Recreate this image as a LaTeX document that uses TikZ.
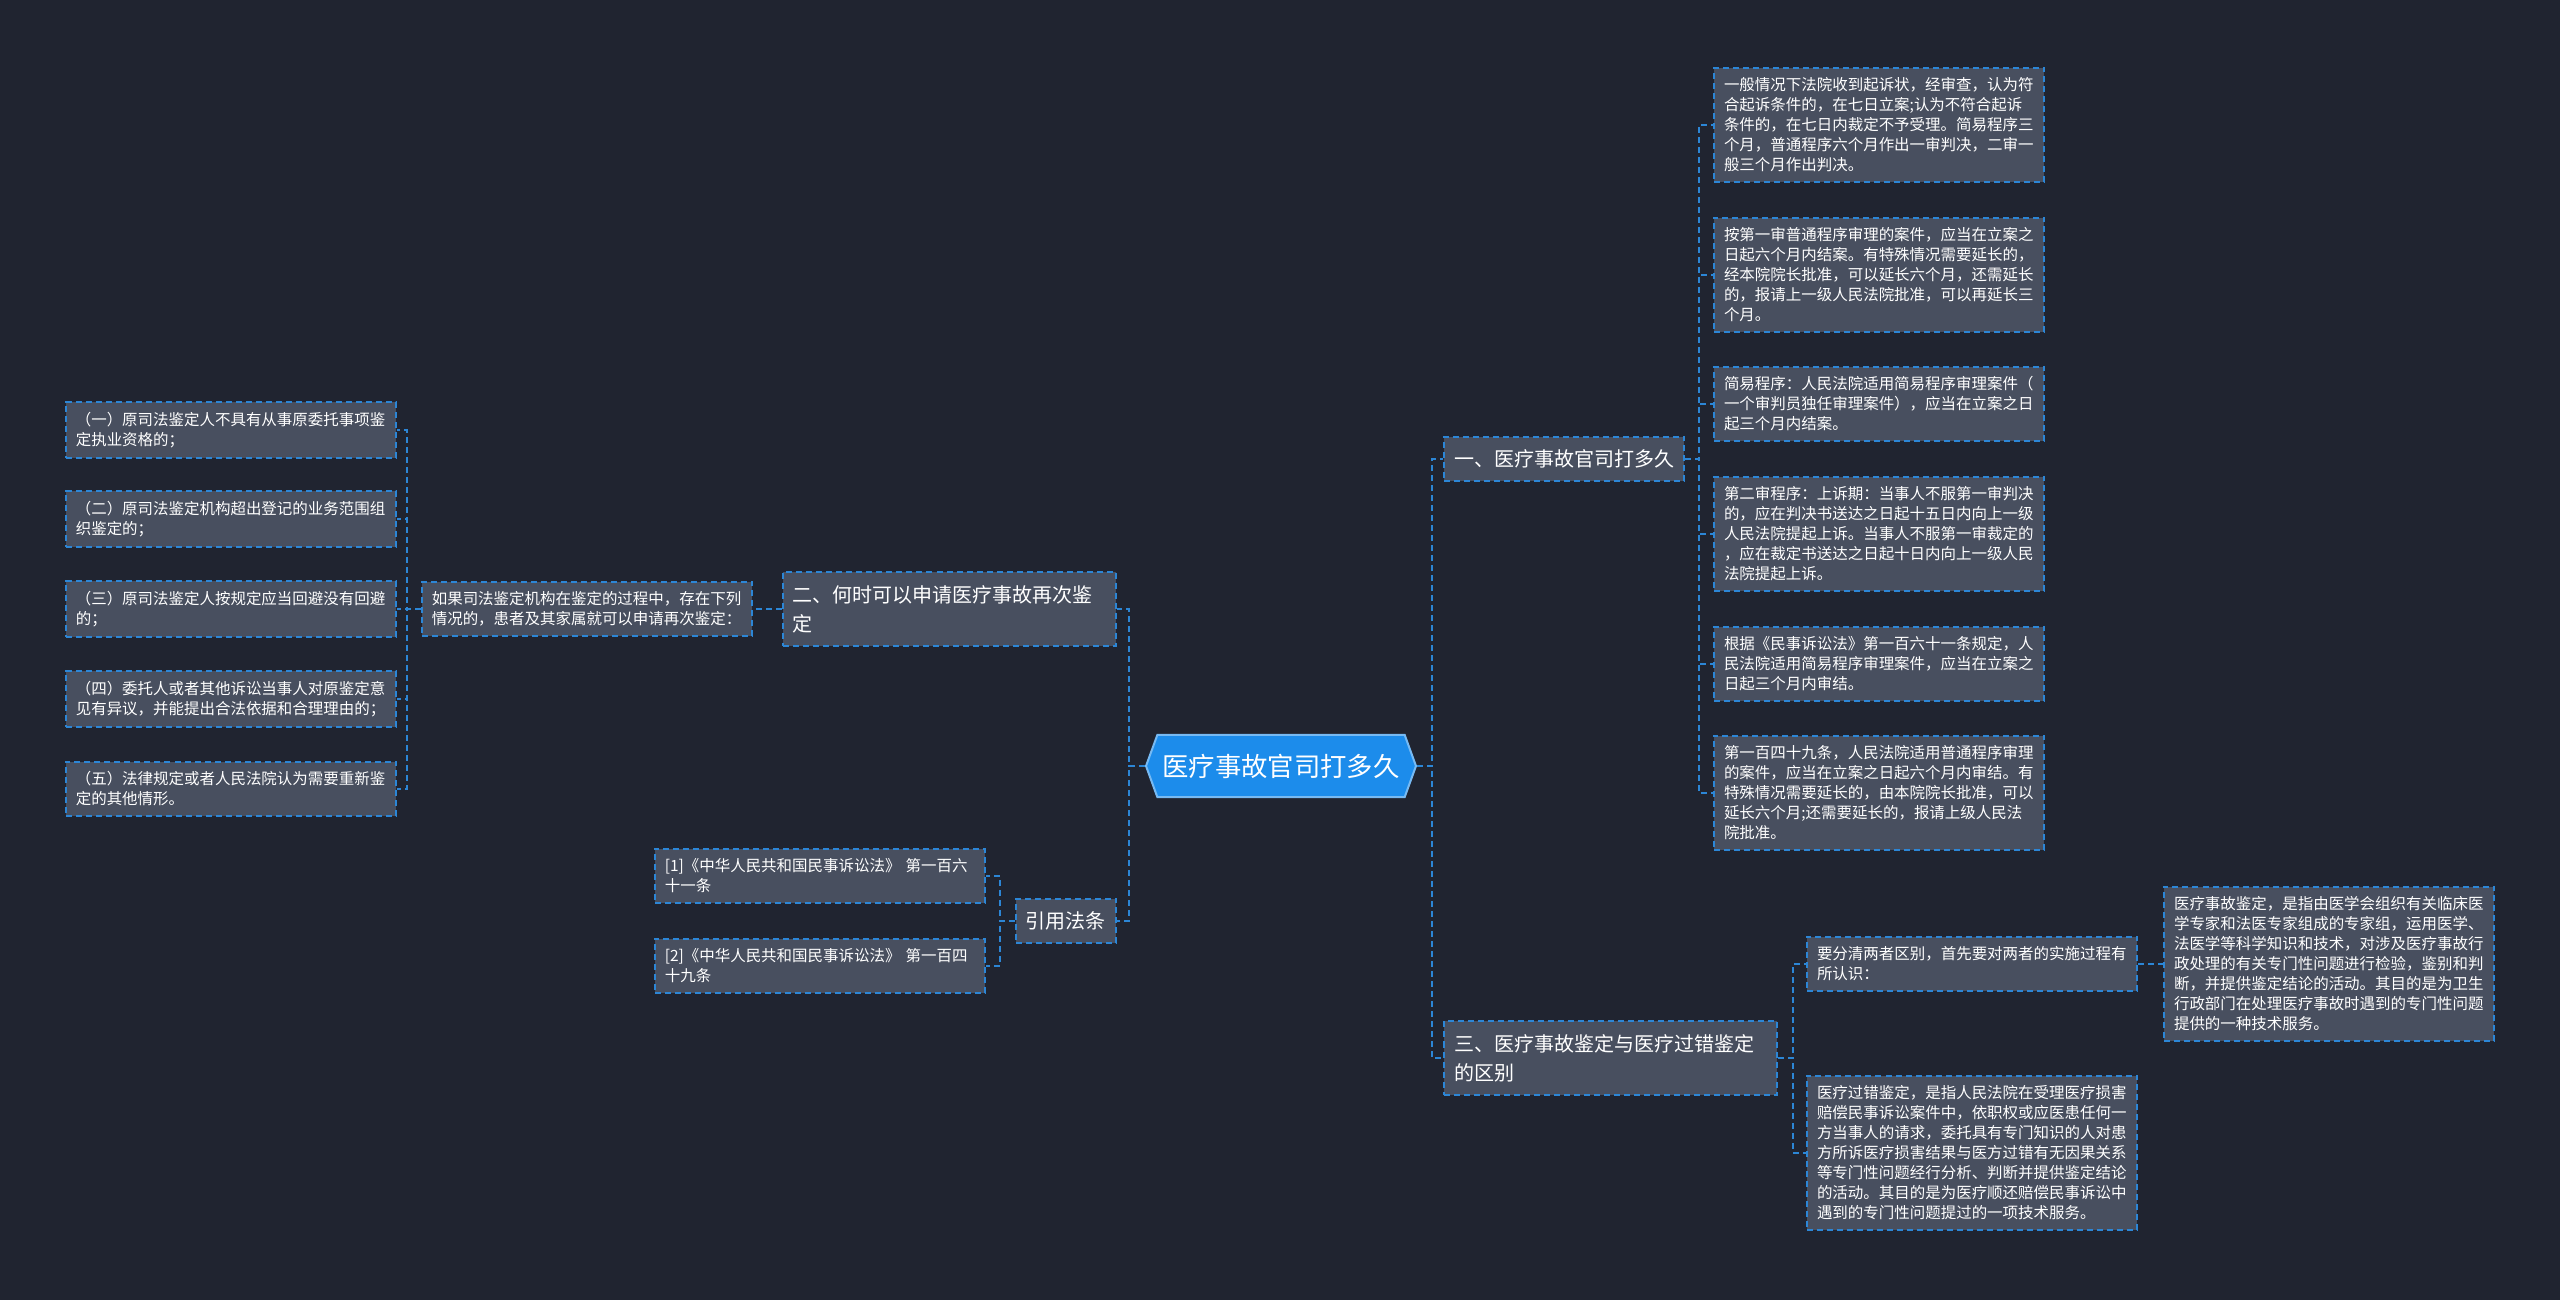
\documentclass[tikz,border=0pt]{standalone}
\usepackage{fontspec}
\setmainfont{Noto Sans CJK SC}
\usepackage{xcolor}
\definecolor{mmbg}{RGB}{32,36,48}
\definecolor{mmbox}{RGB}{72,79,95}
\definecolor{mmline}{RGB}{44,134,214}
\definecolor{mmroot}{RGB}{28,140,235}
\usetikzlibrary{shapes.symbols}
\newcommand{\leaffont}{\fontsize{4.4pt}{5.69pt}\selectfont}
\newcommand{\topicfont}{\fontsize{5.69pt}{8.25pt}\selectfont}
\newcommand{\rootfont}{\fontsize{7.5pt}{9pt}\selectfont}
\tikzset{
  link/.style={mmline, line width=0.02cm, dash pattern=on 0.06cm off 0.04cm},
  leaf/.style={link, draw=mmline, fill=mmbox, text=white, font=\leaffont, align=left,
    text width=3.1cm, inner xsep=0.1cm, inner ysep=0.1cm},
  topic/.style={link, draw=mmline, fill=mmbox, text=white, font=\topicfont, align=left,
    inner xsep=0.1cm, inner ysep=0.13cm},
}

\begin{document}
\begin{tikzpicture}[x=0.01cm, y=-0.01cm]
  % Background
  \fill[mmbg] (0,0) rectangle (2560,1300);

  % --- Root ---
  \node[signal, signal to=east and west, signal pointer angle=140,
    fill=mmroot, draw=mmroot!60!white, line width=0.02cm, text=white,
    font=\rootfont, minimum width=2.66cm, minimum height=0.62cm, inner xsep=0.05cm]
    (root) at (1281,766) {医疗事故官司打多久};

  % --- Branch 1 ---
  \node[topic, anchor=west] (b1) at (1443,459) {一、医疗事故官司打多久};
  \node[leaf, anchor=west] (r1) at (1713,125) {一般情况下法院收到起诉状，经审查，认为符\\合起诉条件的，在七日立案;认为不符合起诉\\条件的，在七日内裁定不予受理。简易程序三\\个月，普通程序六个月作出一审判决，二审一\\般三个月作出判决。};
  \node[leaf, anchor=west] (r2) at (1713,275) {按第一审普通程序审理的案件，应当在立案之\\日起六个月内结案。有特殊情况需要延长的，\\经本院院长批准，可以延长六个月，还需延长\\的，报请上一级人民法院批准，可以再延长三\\个月。};
  \node[leaf, anchor=west] (r3) at (1713,404) {简易程序：人民法院适用简易程序审理案件（\\一个审判员独任审理案件），应当在立案之日\\起三个月内结案。};
  \node[leaf, anchor=west] (r4) at (1713,534) {第二审程序：上诉期：当事人不服第一审判决\\的，应在判决书送达之日起十五日内向上一级\\人民法院提起上诉。当事人不服第一审裁定的\\，应在裁定书送达之日起十日内向上一级人民\\法院提起上诉。};
  \node[leaf, anchor=west] (r5) at (1713,664) {根据《民事诉讼法》第一百六十一条规定，人\\民法院适用简易程序审理案件，应当在立案之\\日起三个月内审结。};
  \node[leaf, anchor=west] (r6) at (1713,793) {第一百四十九条，人民法院适用普通程序审理\\的案件，应当在立案之日起六个月内审结。有\\特殊情况需要延长的，由本院院长批准，可以\\延长六个月;还需要延长的，报请上级人民法\\院批准。};

  % --- Branch 3 ---
  \node[topic, anchor=west, text width=3.13cm] (b3) at (1443,1058) {三、医疗事故鉴定与医疗过错鉴定\\的区别};
  \node[leaf, anchor=west] (s1) at (1806,964) {要分清两者区别，首先要对两者的实施过程有\\所认识：};
  \node[leaf, anchor=west] (s2) at (1806,1153) {医疗过错鉴定，是指人民法院在受理医疗损害\\赔偿民事诉讼案件中，依职权或应医患任何一\\方当事人的请求，委托具有专门知识的人对患\\方所诉医疗损害结果与医方过错有无因果关系\\等专门性问题经行分析、判断并提供鉴定结论\\的活动。其目的是为医疗顺还赔偿民事诉讼中\\遇到的专门性问题提过的一项技术服务。};
  \node[leaf, anchor=west] (s3) at (2163,964) {医疗事故鉴定，是指由医学会组织有关临床医\\学专家和法医专家组成的专家组，运用医学、\\法医学等科学知识和技术，对涉及医疗事故行\\政处理的有关专门性问题进行检验，鉴别和判\\断，并提供鉴定结论的活动。其目的是为卫生\\行政部门在处理医疗事故时遇到的专门性问题\\提供的一种技术服务。};

  % --- Branch 2 ---
  \node[topic, anchor=east, text width=3.13cm] (b2) at (1117,609) {二、何时可以申请医疗事故再次鉴\\定};
  \node[leaf, anchor=east] (cond) at (753,609) {如果司法鉴定机构在鉴定的过程中，存在下列\\情况的，患者及其家属就可以申请再次鉴定：};
  \node[leaf, anchor=east] (c1) at (397,430) {（一）原司法鉴定人不具有从事原委托事项鉴\\定执业资格的；};
  \node[leaf, anchor=east] (c2) at (397,519) {（二）原司法鉴定机构超出登记的业务范围组\\织鉴定的；};
  \node[leaf, anchor=east] (c3) at (397,609) {（三）原司法鉴定人按规定应当回避没有回避\\的；};
  \node[leaf, anchor=east] (c4) at (397,699) {（四）委托人或者其他诉讼当事人对原鉴定意\\见有异议，并能提出合法依据和合理理由的；};
  \node[leaf, anchor=east] (c5) at (397,789) {（五）法律规定或者人民法院认为需要重新鉴\\定的其他情形。};

  % --- Cited laws ---
  \node[topic, anchor=east] (cite) at (1117,921) {引用法条};
  \node[leaf, anchor=east] (ref1) at (986,876) {[1]《中华人民共和国民事诉讼法》 第一百六\\十一条};
  \node[leaf, anchor=east] (ref2) at (986,966) {[2]《中华人民共和国民事诉讼法》 第一百四\\十九条};

  % Connectors
  \draw[link] (root.east) -- ++(15,0) |- (b1.west);
  \draw[link] (root.east) -- ++(15,0) |- (b3.west);
  \draw[link] (root.west) -- ++(-16,0) |- (b2.east);
  \draw[link] (root.west) -- ++(-16,0) |- (cite.east);
  \foreach \n in {r1,r2,r3,r4,r5,r6}
    \draw[link] (b1.east) -- ++(14,0) |- (\n.west);
  \foreach \n in {s1,s2}
    \draw[link] (b3.east) -- ++(15,0) |- (\n.west);
  \draw[link] (s1.east) -- (s3.west);
  \draw[link] (b2.west) -- (cond.east);
  \foreach \n in {c1,c2,c3,c4,c5}
    \draw[link] (cond.west) -- ++(-14,0) |- (\n.east);
  \foreach \n in {ref1,ref2}
    \draw[link] (cite.west) -- ++(-15,0) |- (\n.east);
\end{tikzpicture}
\end{document}
